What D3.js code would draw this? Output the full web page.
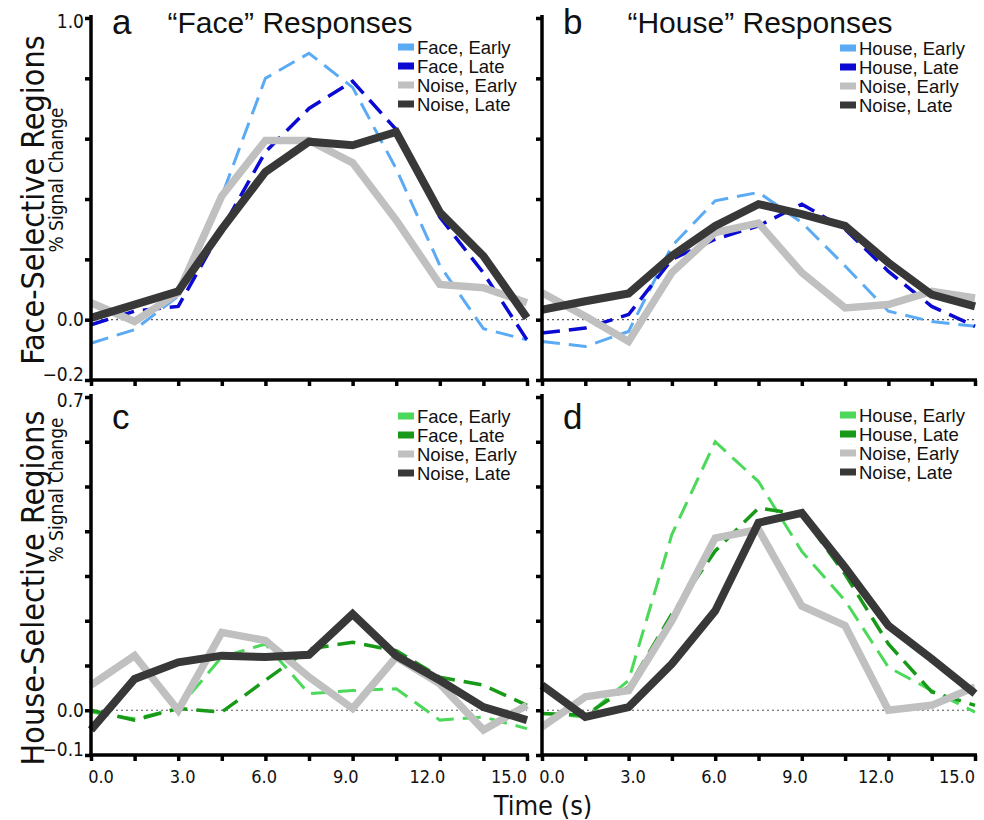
<!DOCTYPE html>
<html>
<head>
<meta charset="utf-8">
<script src="https://cdn.jsdelivr.net/npm/d3@7"></script>
<style>
  body { margin: 0; background: #fff; }
</style>
</head>
<body>
<svg id="chart" width="984" height="820"></svg>
<script>
// time points (s)
const times = [0, 1.5, 3, 4.5, 6, 7.5, 9, 10.5, 12, 13.5, 15];
const xTickLabels = [0, 3, 6, 9, 12, 15];

// a: face-selective regions, "face" responses
const faceEarlyA = [-0.078, -0.033, 0.078, 0.41, 0.80, 0.883, 0.77, 0.50, 0.18, -0.03, -0.067];
const faceLateA = [-0.017, 0.028, 0.044, 0.30, 0.556, 0.70, 0.79, 0.63, 0.34, 0.155, -0.067];
const noiseEarlyA = [0.056, -0.006, 0.089, 0.41, 0.594, 0.594, 0.52, 0.33, 0.117, 0.106, 0.056];
const noiseLateA = [0.006, 0.05, 0.094, 0.30, 0.49, 0.59, 0.578, 0.622, 0.356, 0.211, 0.006];

// b: face-selective regions, "house" responses
const houseEarlyB = [-0.072, -0.089, -0.039, 0.244, 0.394, 0.422, 0.322, 0.178, 0.028, -0.006, -0.022];
const houseLateB = [-0.044, -0.028, 0.017, 0.2, 0.267, 0.311, 0.383, 0.30, 0.16, 0.044, -0.022];
const noiseEarlyB = [0.089, 0.011, -0.072, 0.156, 0.289, 0.32, 0.156, 0.039, 0.05, 0.094, 0.072];
const noiseLateB = [0.033, 0.061, 0.087, 0.211, 0.311, 0.383, 0.35, 0.311, 0.189, 0.083, 0.044];

// c: house-selective regions, "face" responses
const faceEarlyC = [-0.004, -0.019, 0.004, 0.119, 0.148, 0.037, 0.044, 0.048, -0.022, -0.015, -0.041];
const faceLateC = [0, -0.022, 0.004, -0.004, 0.067, 0.137, 0.152, 0.133, 0.074, 0.056, 0.011];
const noiseEarlyC = [0.056, 0.122, 0, 0.174, 0.156, 0.074, 0.004, 0.119, 0.059, -0.044, 0.011];
const noiseLateC = [-0.044, 0.07, 0.107, 0.122, 0.119, 0.124, 0.215, 0.122, 0.067, 0.007, -0.022];

// d: house-selective regions, "house" responses
const houseEarlyD = [-0.007, -0.015, 0.067, 0.393, 0.6, 0.511, 0.355, 0.245, 0.096, 0.044, -0.004];
const houseLateD = [-0.007, -0.011, 0.052, 0.215, 0.356, 0.452, 0.437, 0.304, 0.148, 0.041, 0.011];
const noiseEarlyD = [-0.037, 0.03, 0.044, 0.2, 0.385, 0.404, 0.233, 0.189, 0, 0.011, 0.052];
const noiseLateD = [0.056, -0.015, 0.007, 0.104, 0.222, 0.419, 0.441, 0.319, 0.189, 0.115, 0.037];

const TICK_FONT = "'DejaVu Sans Condensed', 'DejaVu Sans', sans-serif";
const TITLE_FONT = "'Liberation Sans', Arial, sans-serif";
const LEGEND_FONT = "'Liberation Sans Narrow', 'Liberation Sans', Arial, sans-serif";

// series styles
const styles = {
  blueEarly: { color: '#5aaaf4', width: 3, dash: '18,9' },
  blueLate: { color: '#0a0ad2', width: 3.5, dash: '18,9' },
  greenEarly: { color: '#4cd95a', width: 3, dash: '18,9' },
  greenLate: { color: '#189a18', width: 3.5, dash: '18,9' },
  noiseEarly: { color: '#c0c0c0', width: 7.5, dash: null },
  noiseLate: { color: '#383838', width: 8, dash: null }
};

const panels = [
  {
    letter: 'a', title: '\u201cFace\u201d Responses', titleX: 290,
    x0: 91, x1: 527, yTop: 18, yBot: 380, domain: [-0.2, 1.0], step: 0.2, showY: true,
    legendX: 398, legendY: 47,
    series: [
      { name: 'Face, Early', values: faceEarlyA, style: styles.blueEarly },
      { name: 'Face, Late', values: faceLateA, style: styles.blueLate },
      { name: 'Noise, Early', values: noiseEarlyA, style: styles.noiseEarly },
      { name: 'Noise, Late', values: noiseLateA, style: styles.noiseLate }
    ]
  },
  {
    letter: 'b', title: '\u201cHouse\u201d Responses', titleX: 760,
    x0: 542, x1: 975, yTop: 18, yBot: 380, domain: [-0.2, 1.0], step: 0.2, showY: false,
    legendX: 840, legendY: 48,
    series: [
      { name: 'House, Early', values: houseEarlyB, style: styles.blueEarly },
      { name: 'House, Late', values: houseLateB, style: styles.blueLate },
      { name: 'Noise, Early', values: noiseEarlyB, style: styles.noiseEarly },
      { name: 'Noise, Late', values: noiseLateB, style: styles.noiseLate }
    ]
  },
  {
    letter: 'c', title: null,
    x0: 91, x1: 527, yTop: 397, yBot: 755, domain: [-0.1, 0.7], step: 0.1, showY: true,
    legendX: 398, legendY: 416,
    series: [
      { name: 'Face, Early', values: faceEarlyC, style: styles.greenEarly },
      { name: 'Face, Late', values: faceLateC, style: styles.greenLate },
      { name: 'Noise, Early', values: noiseEarlyC, style: styles.noiseEarly },
      { name: 'Noise, Late', values: noiseLateC, style: styles.noiseLate }
    ]
  },
  {
    letter: 'd', title: null,
    x0: 542, x1: 975, yTop: 397, yBot: 755, domain: [-0.1, 0.7], step: 0.1, showY: false,
    legendX: 840, legendY: 415,
    series: [
      { name: 'House, Early', values: houseEarlyD, style: styles.greenEarly },
      { name: 'House, Late', values: houseLateD, style: styles.greenLate },
      { name: 'Noise, Early', values: noiseEarlyD, style: styles.noiseEarly },
      { name: 'Noise, Late', values: noiseLateD, style: styles.noiseLate }
    ]
  }
];

const svg = d3.select('#chart');
const fmt = d3.format('.1f');

function drawPanel(p) {
  const g = svg.append('g').attr('class', `panel panel-${p.letter}`);

  const x = d3.scaleLinear().domain([0, 15]).range([p.x0, p.x1]);
  const y = d3.scaleLinear().domain(p.domain).range([p.yBot, p.yTop]);
  // tick labels sit a little inside the tick marks in the original figure
  const xLabel = d3.scaleLinear().domain([0, 15]).range([p.x0 + 10, p.x1 - 18]);

  // dotted zero line
  g.append('line')
    .attr('x1', x(0)).attr('x2', x(15))
    .attr('y1', y(0)).attr('y2', y(0))
    .attr('stroke', '#555')
    .attr('stroke-width', 1.2)
    .attr('stroke-dasharray', '2,3');

  // data lines
  const line = d3.line()
    .x((d, i) => x(times[i]))
    .y(d => y(d));

  g.append('g').attr('class', 'lines')
    .selectAll('path')
    .data(p.series)
    .join('path')
    .attr('d', d => line(d.values))
    .attr('fill', 'none')
    .attr('stroke', d => d.style.color)
    .attr('stroke-width', d => d.style.width)
    .attr('stroke-dasharray', d => d.style.dash)
    .attr('stroke-linejoin', 'miter')
    .attr('stroke-linecap', 'butt');

  // y axis
  const yTicks = d3.range(p.domain[0], p.domain[1] + p.step / 2, p.step);
  const labelled = [p.domain[0], 0, p.domain[1]];
  const yAxis = d3.axisLeft(y)
    .tickValues(yTicks)
    .tickSize(6)
    .tickSizeOuter(0)
    .tickFormat(v => (p.showY && labelled.some(l => Math.abs(l - v) < 1e-6)) ? fmt(v) : '');

  const ya = g.append('g')
    .attr('class', 'y-axis')
    .attr('transform', `translate(${p.x0},0)`)
    .call(yAxis);

  // x axis
  const xAxis = d3.axisBottom(x)
    .tickValues(times)
    .tickSize(6)
    .tickSizeOuter(0)
    .tickFormat('');

  const xa = g.append('g')
    .attr('class', 'x-axis')
    .attr('transform', `translate(0,${p.yBot})`)
    .call(xAxis);

  [ya, xa].forEach(a => {
    a.select('.domain').attr('stroke', '#000').attr('stroke-width', 3.5);
    a.selectAll('.tick line').attr('stroke', '#000').attr('stroke-width', 3.5);
  });
  // extend the axis lines so the corner is square
  ya.select('.domain').attr('d', `M0,${p.yTop - 3}V${p.yBot + 1.75}`);
  xa.select('.domain').attr('d', `M${p.x0 - 1.75},0H${p.x1 + 2}`);

  ya.selectAll('.tick text')
    .attr('x', -7)
    .attr('dy', d => (Math.abs(d - p.domain[0]) < 1e-6) ? '0.05em' : (Math.abs(d - p.domain[1]) < 1e-6 ? '0.5em' : '0.32em'))
    .attr('font-family', TICK_FONT)
    .attr('font-size', 19)
    .attr('fill', '#111');

  if (p.yBot > 700) {
    g.append('g').attr('class', 'x-labels')
      .selectAll('text')
      .data(xTickLabels)
      .join('text')
      .attr('x', d => xLabel(d))
      .attr('y', p.yBot + 28)
      .attr('text-anchor', 'middle')
      .attr('font-family', TICK_FONT)
      .attr('font-size', 18)
      .attr('fill', '#111')
      .text(d => fmt(d));
  }

  // panel letter and title
  g.append('text')
    .attr('x', p.x0 + 21)
    .attr('y', p.yTop + (p.title ? 16 : 32))
    .attr('font-family', TITLE_FONT)
    .attr('font-size', 35)
    .attr('fill', '#111')
    .text(p.letter);

  if (p.title) {
    g.append('text')
      .attr('x', p.titleX)
      .attr('y', p.yTop + 15)
      .attr('text-anchor', 'middle')
      .attr('font-family', TITLE_FONT)
      .attr('font-size', 30)
      .attr('fill', '#111')
      .text(p.title);
  }

  // legend
  const leg = g.append('g')
    .attr('class', 'legend')
    .attr('transform', `translate(${p.legendX},${p.legendY})`);

  const items = leg.selectAll('g')
    .data(p.series)
    .join('g')
    .attr('transform', (d, i) => `translate(0,${i * 19})`);

  items.append('rect')
    .attr('x', 0).attr('y', -3.5)
    .attr('width', 16).attr('height', 7)
    .attr('fill', d => d.style.color);

  items.append('text')
    .attr('x', 19)
    .attr('y', 6.5)
    .attr('font-family', LEGEND_FONT)
    .attr('font-size', 18.5)
    .attr('fill', '#111')
    .text(d => d.name);
}

panels.forEach(drawPanel);

// row labels
const rows = [
  { big: 'Face-Selective Regions', cy: 200, smallCy: 180 },
  { big: 'House-Selective Regions', cy: 588, smallCy: 490 }
];

rows.forEach(r => {
  svg.append('text')
    .attr('transform', `translate(44,${r.cy}) rotate(-90)`)
    .attr('text-anchor', 'middle')
    .attr('font-family', TICK_FONT)
    .attr('font-size', 32)
    .attr('fill', '#111')
    .text(r.big);
  svg.append('text')
    .attr('transform', `translate(63,${r.smallCy}) rotate(-90)`)
    .attr('text-anchor', 'middle')
    .attr('font-family', TICK_FONT)
    .attr('font-size', 19)
    .attr('fill', '#111')
    .text('% Signal Change');
});

svg.append('text')
  .attr('x', 543)
  .attr('y', 815)
  .attr('text-anchor', 'middle')
  .attr('font-family', TICK_FONT)
  .attr('font-size', 27)
  .attr('fill', '#111')
  .text('Time (s)');
</script>
</body>
</html>
